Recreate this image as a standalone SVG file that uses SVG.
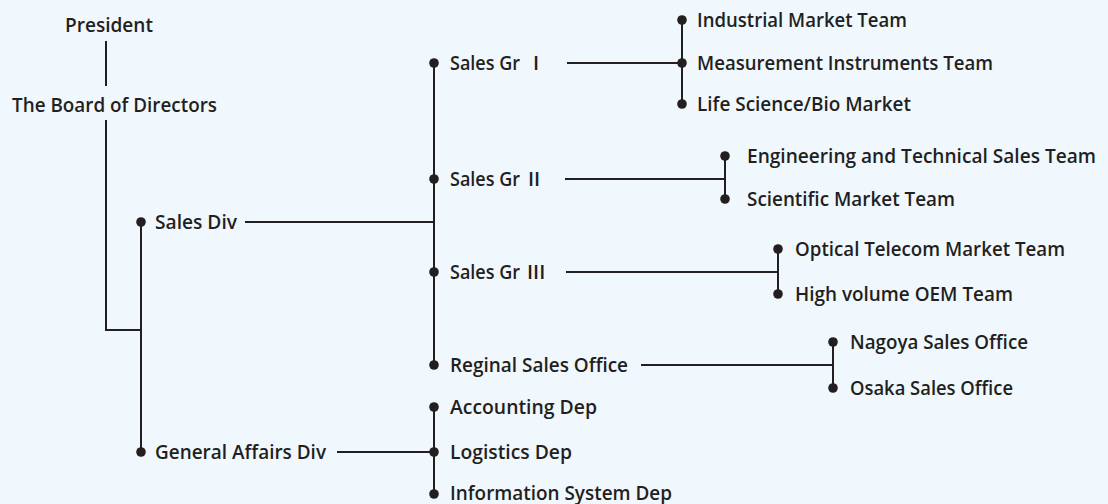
<svg xmlns="http://www.w3.org/2000/svg" width="1108" height="504" viewBox="0 0 1108 504">
<style>
text{font-family:"Open Sans","Noto Sans","Liberation Sans",sans-serif;font-weight:600;font-size:20px;fill:#231f20}
text.sg{font-size:19px}
.c line{stroke:#231f20;stroke-width:2;fill:none}
.c circle{fill:#231f20}
</style>
<rect width="1108" height="504" fill="#f0f8fe"/>
<g class="c" id="connectors">
<line x1="106" y1="41" x2="106" y2="86"/>
<line x1="106" y1="120" x2="106" y2="330"/>
<line x1="105" y1="330" x2="141" y2="330"/>
<line x1="141" y1="222" x2="141" y2="452"/>
<line x1="245" y1="222" x2="434" y2="222"/>
<line x1="337" y1="452" x2="434" y2="452"/>
<line x1="434" y1="63" x2="434" y2="365"/>
<line x1="434" y1="407" x2="434" y2="494"/>
<line x1="567" y1="63" x2="682" y2="63"/>
<line x1="682" y1="20" x2="682" y2="104"/>
<line x1="565" y1="179" x2="725" y2="179"/>
<line x1="725" y1="156" x2="725" y2="199"/>
<line x1="566" y1="272" x2="778" y2="272"/>
<line x1="778" y1="249" x2="778" y2="294"/>
<line x1="641" y1="365" x2="833" y2="365"/>
<line x1="833" y1="342" x2="833" y2="388"/>
<circle cx="141" cy="222" r="4.8"/>
<circle cx="141" cy="452" r="4.8"/>
<circle cx="434" cy="63" r="4.8"/>
<circle cx="434" cy="179" r="4.8"/>
<circle cx="434" cy="272" r="4.8"/>
<circle cx="434" cy="365" r="4.8"/>
<circle cx="434" cy="407" r="4.8"/>
<circle cx="434" cy="452" r="4.8"/>
<circle cx="434" cy="494" r="4.8"/>
<circle cx="682" cy="20" r="4.8"/>
<circle cx="682" cy="63" r="4.8"/>
<circle cx="682" cy="104" r="4.8"/>
<circle cx="725" cy="156" r="4.8"/>
<circle cx="725" cy="199" r="4.8"/>
<circle cx="778" cy="249" r="4.8"/>
<circle cx="778" cy="294" r="4.8"/>
<circle cx="833" cy="342" r="4.8"/>
<circle cx="833" cy="388" r="4.8"/>
</g>
<g id="president"><text x="65" y="32" textLength="88" lengthAdjust="spacingAndGlyphs">President</text></g>
<g id="board"><text x="12" y="112" textLength="205" lengthAdjust="spacingAndGlyphs">The Board of Directors</text></g>
<g id="sales-div"><text x="155" y="229" textLength="82" lengthAdjust="spacingAndGlyphs">Sales Div</text></g>
<g id="general-affairs-div"><text x="155" y="459" textLength="171" lengthAdjust="spacingAndGlyphs">General Affairs Div</text></g>
<g id="sales-gr-1"><text class="sg" x="450" y="70" textLength="70" lengthAdjust="spacingAndGlyphs">Sales Gr</text><text x="533" y="70">I</text></g>
<g id="sales-gr-2"><text class="sg" x="450" y="186" textLength="70" lengthAdjust="spacingAndGlyphs">Sales Gr</text><text x="528" y="186">II</text></g>
<g id="sales-gr-3"><text class="sg" x="450" y="279" textLength="70" lengthAdjust="spacingAndGlyphs">Sales Gr</text><text x="527" y="279">III</text></g>
<g id="reginal"><text x="450" y="372" textLength="178" lengthAdjust="spacingAndGlyphs">Reginal Sales Office</text></g>
<g id="accounting"><text x="450" y="414" textLength="147" lengthAdjust="spacingAndGlyphs">Accounting Dep</text></g>
<g id="logistics"><text x="450" y="459" textLength="122" lengthAdjust="spacingAndGlyphs">Logistics Dep</text></g>
<g id="info-system"><text x="450" y="500" textLength="222" lengthAdjust="spacingAndGlyphs">Information System Dep</text></g>
<g id="industrial"><text x="697" y="27" textLength="210" lengthAdjust="spacingAndGlyphs">Industrial Market Team</text></g>
<g id="measurement"><text x="697" y="70" textLength="296" lengthAdjust="spacingAndGlyphs">Measurement Instruments Team</text></g>
<g id="life-science"><text x="697" y="111" textLength="214" lengthAdjust="spacingAndGlyphs">Life Science/Bio Market</text></g>
<g id="engineering"><text x="747" y="163" style="font-size:19px" textLength="349" lengthAdjust="spacingAndGlyphs">Engineering and Technical Sales Team</text></g>
<g id="scientific"><text x="747" y="206" textLength="208" lengthAdjust="spacingAndGlyphs">Scientific Market Team</text></g>
<g id="optical"><text x="795" y="256" textLength="270" lengthAdjust="spacingAndGlyphs">Optical Telecom Market Team</text></g>
<g id="high-volume"><text x="795" y="301" textLength="218" lengthAdjust="spacingAndGlyphs">High volume OEM Team</text></g>
<g id="nagoya"><text x="850" y="349" textLength="178" lengthAdjust="spacingAndGlyphs">Nagoya Sales Office</text></g>
<g id="osaka"><text x="850" y="395" textLength="163" lengthAdjust="spacingAndGlyphs">Osaka Sales Office</text></g>
</svg>
